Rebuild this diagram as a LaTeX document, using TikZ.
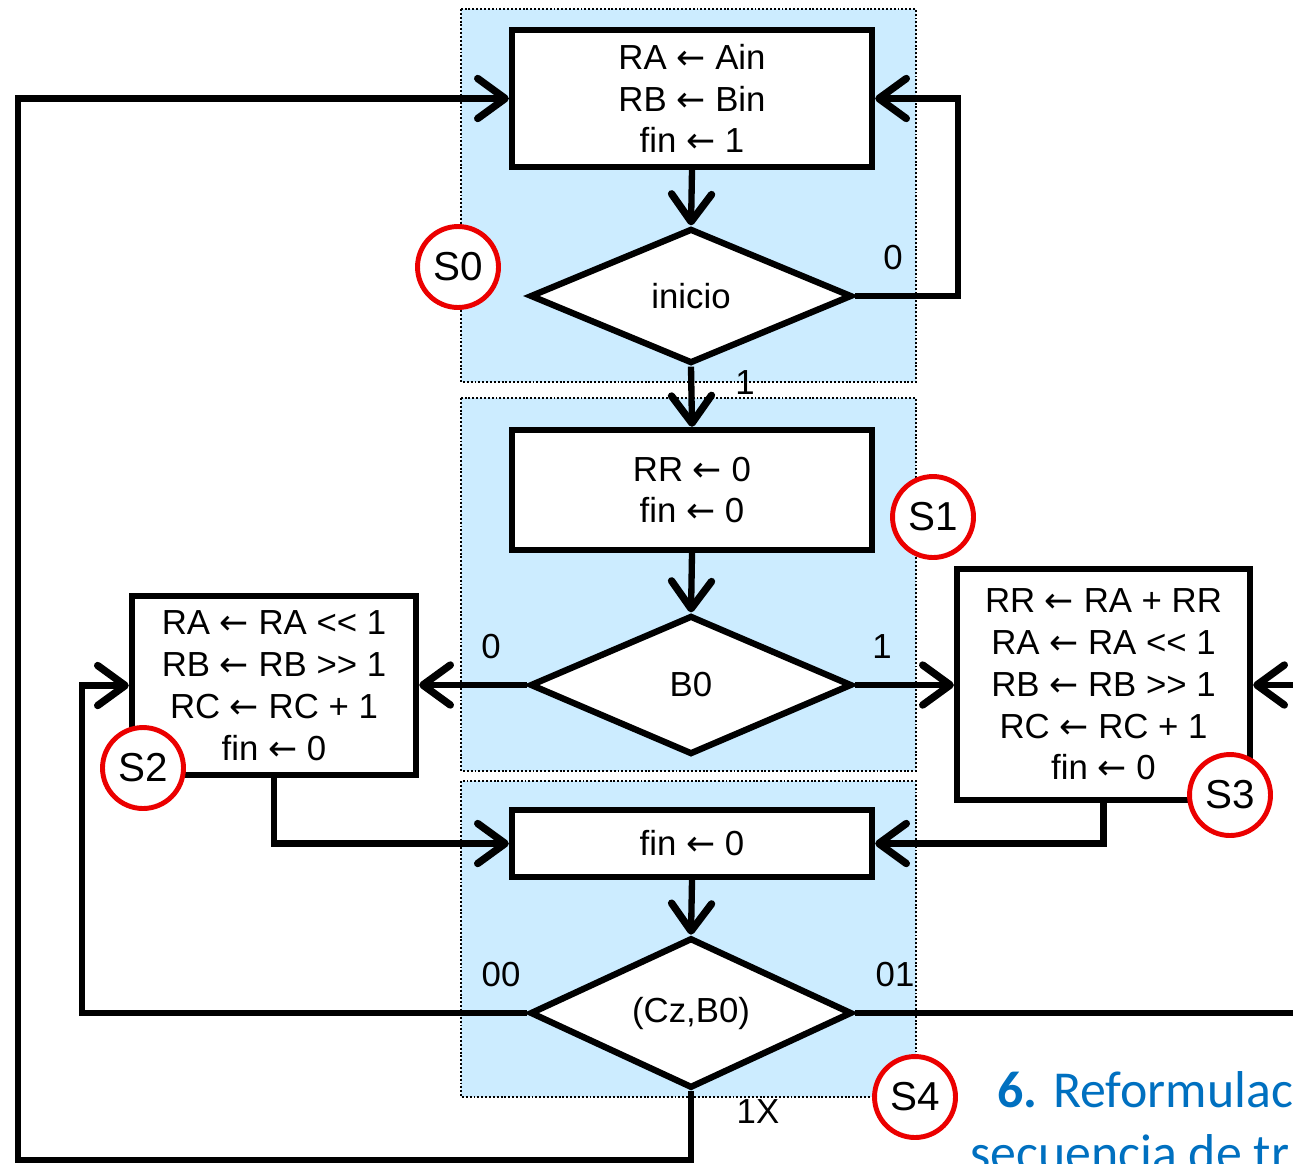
\documentclass[tikz,border=0pt]{standalone}
\usepackage{fontspec}
\setmainfont{Liberation Sans}
\newfontfamily\calfont{Carlito}
\newfontfamily\arrfont{DejaVu Sans}
\newcommand{\la}{{\arrfont ←}}
\usetikzlibrary{arrows.meta,shapes.geometric}
\definecolor{bgblue}{RGB}{204,236,255}
\definecolor{titleblue}{RGB}{0,112,192}
\definecolor{stred}{RGB}{235,0,0}
\begin{document}
\begin{tikzpicture}[x=0.02cm,y=-0.02cm,
  txt/.style={font=\fontsize{19.8}{23.8}\selectfont},
  statebg/.style={fill=bgblue,draw=black,line width=1.1pt,dash pattern=on 1.1pt off 1.1pt},
  opbox/.style={draw=black,fill=white,line width=3.6pt,align=center,inner sep=0pt,txt},
  decision/.style={diamond,draw=black,fill=white,line width=3.6pt,inner sep=0pt,txt},
  conn/.style={line width=3.6pt},
  arr/.style={conn,-{Straight Barb[round,length=0.55cm,width=0.8cm,line width=4.2pt]}},
  lbl/.style={txt,inner sep=0pt},
  st/.style={circle,draw=stred,fill=white,line width=2.8pt,minimum size=1.62cm,inner sep=0pt,font=\fontsize{23}{26}\selectfont}
]
\useasboundingbox (0,0) rectangle (1293,1163);
\clip (0,0) rectangle (1293,1163);

% state backgrounds
\path[statebg] (461,9) rectangle (916,382);
\path[statebg] (461,398) rectangle (916,771);
\path[statebg] (461,781) rectangle (916,1097);

% operation boxes
\node[opbox,minimum width=7.2cm,minimum height=2.74cm] (A) at (692,98.5) {RA \la{} Ain\\RB \la{} Bin\\fin \la{} 1};
\node[decision,minimum width=6.44cm,minimum height=2.7cm] (ini) at (691,296) {inicio};
\node[opbox,minimum width=7.2cm,minimum height=2.4cm] (B) at (692,490) {RR \la{} 0\\fin \la{} 0};
\node[decision,minimum width=6.44cm,minimum height=2.78cm] (b0) at (691,685) {B0};
\node[opbox,minimum width=5.68cm,minimum height=3.58cm] (L) at (274,685.5) {RA \la{} RA {<}{<} 1\\RB \la{} RB {>}{>} 1\\RC \la{} RC + 1\\fin \la{} 0};
\node[opbox,minimum width=5.86cm,minimum height=4.62cm] (R) at (1103.5,684.5) {RR \la{} RA + RR\\RA \la{} RA {<}{<} 1\\RB \la{} RB {>}{>} 1\\RC \la{} RC + 1\\fin \la{} 0};
\node[opbox,minimum width=7.2cm,minimum height=1.34cm] (F) at (692,843.5) {fin \la{} 0};
\node[decision,minimum width=6.44cm,minimum height=2.78cm] (cz) at (691,1013) {(Cz,B0)};

% helper coordinates
\coordinate (r0) at (958,296);
\coordinate (c00) at (82,1013);
\coordinate (c01) at (1300,1013);
\coordinate (inR) at (1300,685);
\coordinate (b1) at (691,1160);
\coordinate (b2) at (18,1160);

% connectors
\draw[arr] (A.south) -- (ini.north);
\draw[arr] (ini.east) -- (r0) |- (A.east);
\draw[arr] (ini.south) -- (B.north);
\draw[arr] (B.south) -- (b0.north);
\draw[arr] (b0.west) -- (b0.west -| L.east);
\draw[arr] (b0.east) -- (b0.east -| R.west);
\draw[arr] (L.south) |- (F.west);
\draw[arr] (R.south) |- (F.east);
\draw[arr] (F.south) -- (cz.north);
\draw[arr] (cz.west) -- (c00) |- (L.west);
\draw[conn] (cz.east) -- (c01);
\draw[arr] (inR) -- (inR -| R.east);
\draw[arr] (cz.south) -- (b1) -- (b2) |- (A.west);

% labels
\node[lbl] (l1) at (893,258) {0};
\node[lbl] (l2) at (745,383) {1};
\node[lbl] (l3) at (491,647) {0};
\node[lbl] (l4) at (882,647) {1};
\node[lbl] (l5) at (501,975) {00};
\node[lbl] (l6) at (895,975) {01};
\node[lbl] (l7) at (758,1112) {1X};

% state circles
\node[st] (s0) at (458,267) {S0};
\node[st] (s1) at (933,517) {S1};
\node[st] (s2) at (143,768) {S2};
\node[st] (s3) at (1230,795) {S3};
\node[st] (s4) at (915,1097) {S4};

% title text (cropped by the picture's edge, as in the reference)
\node[anchor=base west,inner sep=0pt,text=titleblue,font=\calfont\fontsize{29.5}{34}\selectfont] (t1) at (997,1107) {\textbf{6.} Reformulac};
\node[anchor=base west,inner sep=0pt,text=titleblue,font=\calfont\fontsize{29.5}{34}\selectfont] (t2) at (970,1170) {secuencia de tr};
\end{tikzpicture}
\end{document}
